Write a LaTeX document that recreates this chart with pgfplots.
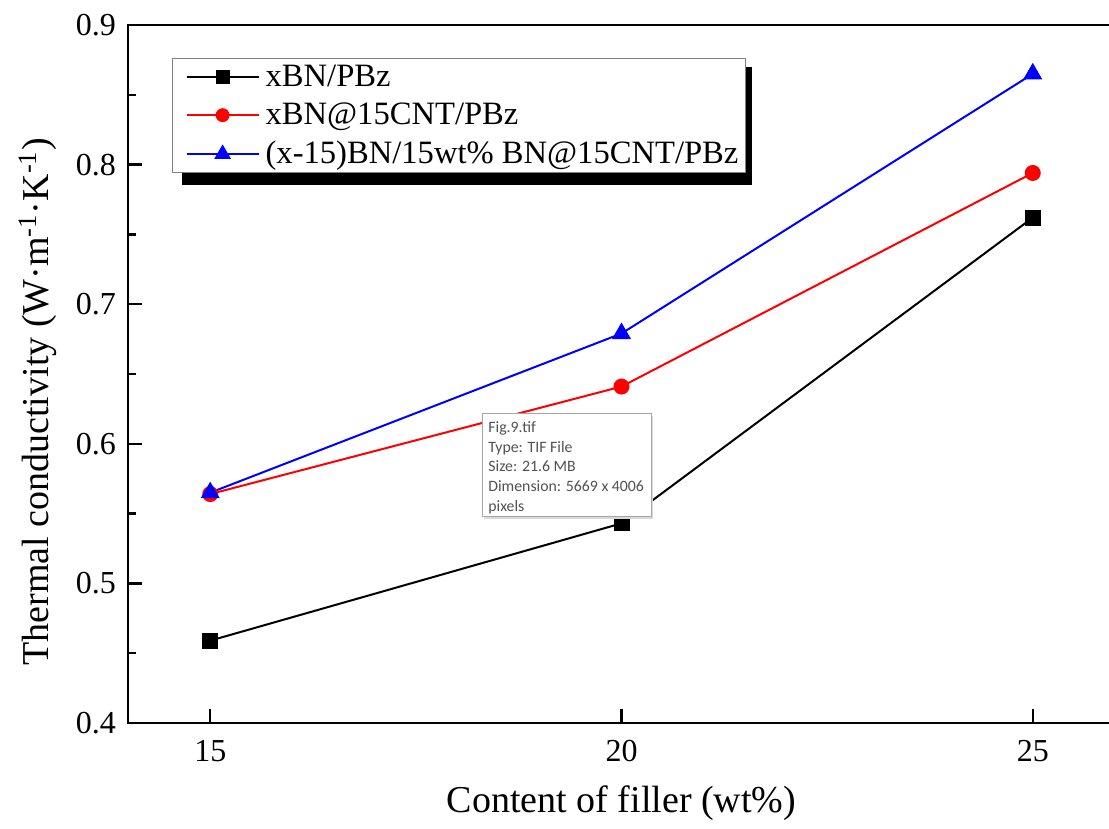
\documentclass[border=0pt]{standalone}
\usepackage{fontspec}
\setmainfont{Liberation Serif}
\newfontfamily\tipfont{Carlito}
\usepackage{pgfplots}
\pgfplotsset{compat=1.18}

\begin{document}
\begin{tikzpicture}
\useasboundingbox (0,0) rectangle (554.5pt,414.5pt);
\clip (0,0) rectangle (554.5pt,414.5pt);
\begin{axis}[
  at={(64pt,53pt)}, anchor=south west,
  scale only axis, width=493.5pt, height=349pt,
  xmin=14, xmax=26, ymin=0.4, ymax=0.9,
  clip=false,
  xtick={15,20,25},
  ytick={0.4,0.5,0.6,0.7,0.8,0.9},
  minor y tick num=1,
  xtick pos=bottom, ytick pos=left,
  xtick align=inside, ytick align=inside,
  major tick length=7pt,
  minor tick length=4pt,
  axis line style={line width=1.2pt},
  xtick style={black, line width=1.2pt},
  ytick style={black, line width=1.2pt},
  /pgf/number format/assume math mode=true,
  yticklabels={0.4,0.5,0.6,0.7,0.8,0.9},
  y tick label style={xshift=-2.5pt},
  x tick label style={yshift=-5pt},
  tick label style={font=\fontsize{16}{19}\selectfont},
  xlabel={Content of filler (wt\%)},
  ylabel={Thermal conductivity (W·m\textsuperscript{-1}·K\textsuperscript{-1})},
  every axis x label/.style={at={(axis description cs:0.5,-0.1146)}, anchor=center, font=\fontsize{19}{22}\selectfont},
  every axis y label/.style={at={(axis description cs:-0.0912,0.46)}, anchor=center, rotate=90, font=\fontsize{19}{22}\selectfont},
  legend cell align=left,
  legend image code/.code={%
    \path (-4.5pt,0pt);
    \draw[mark repeat=2,mark phase=2,#1, every mark/.append style={scale=0.85}]
      plot coordinates {(0pt,0pt) (18pt,0pt) (36pt,0pt)};},
  legend style={
    at={(0.0446,0.9527)}, anchor=north west,
    draw=gray, line width=0.6pt,
    font=\fontsize{16.3}{19}\selectfont,
    fill=white,
    inner xsep=2pt, inner ysep=1.5pt,
    row sep=3.85pt,
    nodes={inner sep=1.5pt},
    /tikz/every odd column/.append style={column sep=1.5pt},
  },
]
% major y tick marks on the left axis line (inward)
\draw[black, line width=1.2pt] (axis cs:14,0.5) -- ++(7pt,0pt);
\draw[black, line width=1.2pt] (axis cs:14,0.6) -- ++(7pt,0pt);
\draw[black, line width=1.2pt] (axis cs:14,0.7) -- ++(7pt,0pt);
\draw[black, line width=1.2pt] (axis cs:14,0.8) -- ++(7pt,0pt);
% legend shadow (solid black, offset down-right)
\fill[black] (rel axis cs:0.0547,0.7708) rectangle (rel axis cs:0.6322,0.9398);
\addplot[black, line width=1pt, mark=square*, mark size=3.5pt, mark options={fill=black}]
  coordinates {(15,0.459) (20,0.543) (25,0.762)};
\addlegendentry{xBN/PBz}
\addplot[red, line width=1pt, mark=*, mark size=3.5pt, mark options={fill=red}]
  coordinates {(15,0.564) (20,0.641) (25,0.794)};
\addlegendentry{xBN@15CNT/PBz}
\addplot[blue, line width=1pt, mark=triangle*, mark size=4.5pt, mark options={fill=blue}]
  coordinates {(15,0.565) (20,0.679) (25,0.865)};
\addlegendentry{(x-15)BN/15wt\% BN@15CNT/PBz}
\end{axis}
% file tooltip overlay present in the screenshot
\fill[black!15] (242pt,155pt) rectangle (326.5pt,206.5pt);
\draw[gray!70, fill=white, line width=0.5pt] (241pt,156pt) rectangle (325.5pt,207.5pt);
\node[anchor=north west, inner sep=0pt, align=left, text=black!68,
      font=\tipfont\fontsize{7.9}{9.9}\selectfont] at (244pt,204pt)
  {Fig.9.tif\\Type: TIF File\\Size: 21.6 MB\\Dimension: 5669 x 4006\\pixels};
\end{tikzpicture}
\end{document}
